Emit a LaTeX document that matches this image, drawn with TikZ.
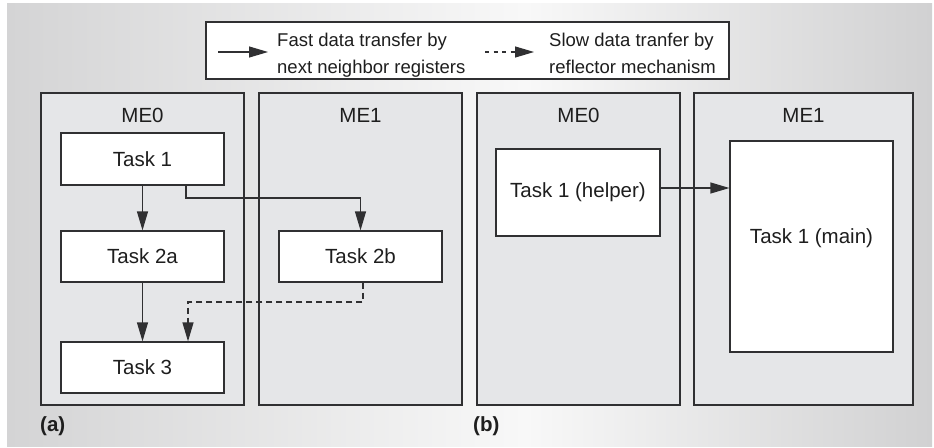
\documentclass[tikz,border=0pt]{standalone}
\usepackage{fontspec}
\setmainfont{Liberation Sans}
\usetikzlibrary{arrows.meta,calc}
\definecolor{bgL}{RGB}{212,212,213}
\definecolor{bgM}{RGB}{248,248,248}
\definecolor{bgR}{RGB}{209,209,210}
\definecolor{mefill}{RGB}{229,230,232}
\definecolor{edge}{RGB}{48,48,50}
\definecolor{txt}{RGB}{30,30,30}
\pgfdeclarehorizontalshading{bgshade}{100bp}{color(0bp)=(bgL); color(25bp)=(bgL); color(53bp)=(bgM); color(75bp)=(bgR); color(100bp)=(bgR)}
\begin{document}
\begin{tikzpicture}[x=1pt,y=-1pt,
  mebox/.style={draw=edge,line width=1.3pt,fill=mefill,minimum height=312pt,inner sep=0pt},
  taskbox/.style={draw=edge,line width=1.2pt,fill=white,minimum width=163pt,minimum height=52pt,inner sep=0pt,font=\fontsize{20.5}{24}\selectfont,text=txt},
  melabel/.style={inner sep=0pt,font=\fontsize{20.5}{24}\selectfont,text=txt},
  legtext/.style={inner sep=0pt,align=left,font=\fontsize{18.5}{26.6}\selectfont,text=txt},
  sublabel/.style={inner sep=0pt,anchor=west,font=\fontsize{20.5}{24}\selectfont\bfseries,text=txt},
  arr/.style={draw=edge,line width=1.2pt,-{Triangle[length=19pt,width=11pt]}},
  dsh/.style={arr,dash pattern=on 6pt off 4pt},
  legdsh/.style={arr,dash pattern=on 4pt off 4.5pt},
]
\useasboundingbox (0,0) rectangle (934,447);
\shade[shading=bgshade] (7,3) rectangle (932,446);

% legend
\node[draw=edge,line width=1.2pt,fill=white,minimum width=523pt,minimum height=57pt,inner sep=0pt] (leg) at (467.5,50.5) {};
\node[legtext,anchor=north west] (ft) at (277,33) {Fast data transfer by\\next neighbor registers};
\node[legtext,anchor=north west] (st) at (549,33) {Slow data tranfer by\\reflector mechanism};
\coordinate (ls1) at (218,52);
\coordinate (le1) at (268,52);
\coordinate (ls2) at (485,52);
\coordinate (le2) at (534,52);
\draw[arr] (ls1) -- (le1);
\draw[legdsh] (ls2) -- (le2);

% ME boxes
\node[mebox,minimum width=203pt] (me0a) at (142.5,249) {};
\node[mebox,minimum width=203pt] (me1a) at (360.5,249) {};
\node[mebox,minimum width=203pt] (me0b) at (578.5,249) {};
\node[mebox,minimum width=219pt] (me1b) at (803.5,249) {};
\node[melabel] (l0a) at (142.5,115) {ME0};
\node[melabel] (l1a) at (360.5,115) {ME1};
\node[melabel] (l0b) at (578.5,115) {ME0};
\node[melabel] (l1b) at (803.5,115) {ME1};

% tasks (a)
\node[taskbox] (t1) at (142.5,159) {Task 1};
\node[taskbox,minimum height=51pt] (t2a) at (142.5,256.5) {Task 2a};
\node[taskbox,minimum height=51pt] (t3) at (142.5,367.5) {Task 3};
\node[taskbox,minimum height=51pt] (t2b) at (360.5,256.5) {Task 2b};

% tasks (b)
\node[taskbox,minimum width=164pt,minimum height=87pt] (th) at (578,192.5) {Task 1 (helper)};
\node[taskbox,minimum height=211pt,text height=15pt,text depth=20.4pt] (tm) at (811.5,246.5) {Task 1 (main)};

% connectors (a)
\draw[arr] (t1) -- (t2a);
\draw[arr] (t2a) -- (t3);
\coordinate (k1) at (186,198);
\draw[arr] (t1.south -| k1) -- (k1) -| (t2b.north);
\coordinate (k2) at (363,302);
\coordinate (k3) at (188,302);
\draw[dsh] (t2b.south -| k2) -- (k2) -- (k3) -- (k3 |- t3.north);

% connector (b)
\coordinate (k4) at (660,188);
\draw[arr] (th.east |- k4) -- (tm.west |- k4);

% sub labels
\node[sublabel] (la) at (40,426) {(a)};
\node[sublabel] (lb) at (473,426) {(b)};
\end{tikzpicture}
\end{document}
